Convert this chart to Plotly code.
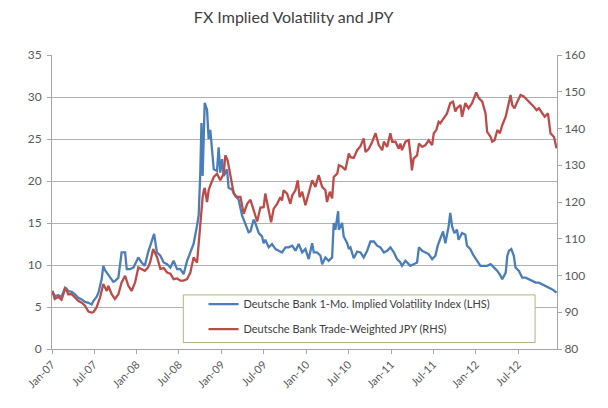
import plotly.graph_objects as go

vol_dates = ["2007-01-02","2007-01-13","2007-01-28","2007-02-11","2007-02-26","2007-03-05","2007-03-12","2007-03-27",
"2007-04-10","2007-04-24","2007-05-09","2007-05-23","2007-06-07","2007-06-21","2007-06-28","2007-07-12","2007-07-20",
"2007-07-27","2007-08-03","2007-08-10","2007-08-17","2007-08-25","2007-09-08","2007-09-22","2007-09-29","2007-10-14",
"2007-10-28","2007-11-12","2007-11-19","2007-12-03","2007-12-18","2008-01-01","2008-01-08","2008-01-22","2008-02-05",
"2008-02-19","2008-03-12","2008-03-16","2008-03-28","2008-04-12","2008-04-26","2008-05-11","2008-05-25","2008-06-08",
"2008-06-23","2008-07-07","2008-07-21","2008-08-05","2008-08-19","2008-09-02","2008-09-17","2008-09-24","2008-10-01",
"2008-10-06","2008-10-11","2008-10-16","2008-10-20","2008-10-30","2008-11-06","2008-11-13","2008-11-21","2008-11-28",
"2008-12-12","2008-12-19","2008-12-26","2009-01-03","2009-01-10","2009-01-24","2009-01-31","2009-02-15","2009-03-01",
"2009-03-15","2009-03-30","2009-04-13","2009-04-27","2009-05-05","2009-05-19","2009-05-26","2009-06-10","2009-06-24",
"2009-07-01","2009-07-08","2009-07-23","2009-08-06","2009-08-21","2009-09-04","2009-09-18","2009-10-03","2009-10-17",
"2009-11-01","2009-11-15","2009-11-29","2009-12-14","2009-12-28","2010-01-11","2010-01-26","2010-02-02","2010-02-16",
"2010-03-03","2010-03-10","2010-03-24","2010-04-07","2010-04-22","2010-04-29","2010-05-06","2010-05-18","2010-05-21",
"2010-06-04","2010-06-11","2010-06-26","2010-07-03","2010-07-10","2010-07-24","2010-08-08","2010-08-22","2010-09-05",
"2010-09-20","2010-10-04","2010-10-19","2010-11-02","2010-11-16","2010-12-01","2010-12-15","2010-12-29","2011-01-13",
"2011-01-27","2011-02-10","2011-02-17","2011-03-04","2011-03-18","2011-03-25","2011-04-08","2011-04-23","2011-05-01",
"2011-05-15","2011-05-29","2011-06-12","2011-06-27","2011-07-11","2011-07-21","2011-08-01","2011-08-13","2011-08-23",
"2011-09-06","2011-09-13","2011-09-21","2011-10-01","2011-10-12","2011-10-19","2011-11-03","2011-11-17","2011-11-24",
"2011-12-08","2011-12-23","2012-01-07","2012-01-21","2012-02-05","2012-02-19","2012-03-05","2012-03-19","2012-04-03",
"2012-04-17","2012-04-24","2012-05-09","2012-05-16","2012-05-23","2012-06-02","2012-06-13","2012-06-20","2012-07-05",
"2012-07-19","2012-08-03","2012-08-17","2012-09-01","2012-09-15","2012-09-29","2012-10-14","2012-10-28","2012-11-11",
"2012-11-26","2012-12-14"]
vol_values = [6.9,6.3,6.4,6.2,7.3,7.2,6.9,6.8,
6.5,6.1,5.9,5.6,5.5,5.3,5.7,6.2,6.7,
7.4,8.3,9.9,9.4,9.1,8.5,8.0,8.1,8.5,
11.5,11.5,9.5,9.5,9.7,10.5,10.9,10.3,9.9,
11.5,13.5,13.7,11.5,11.1,10.3,10.1,9.7,10.5,
9.5,9.5,8.9,10.5,11.5,12.5,14.7,15.9,21.0,
26.9,20.6,28.1,29.3,28.5,25.0,26.1,23.0,21.4,
21.2,24.0,21.0,22.6,20.6,21.4,19.2,19.0,18.2,
17.8,15.9,14.9,13.9,14.0,15.4,15.0,13.8,13.4,
12.6,13.0,12.1,12.5,11.9,11.7,11.5,12.1,12.1,
12.3,11.7,12.5,11.5,11.9,10.7,12.6,11.5,11.5,
11.1,10.1,10.9,10.5,10.9,15.0,14.2,16.4,14.2,
15.0,13.4,12.6,11.9,12.1,10.8,11.6,11.5,10.9,
11.7,12.8,12.8,12.3,12.1,11.5,11.7,12.1,11.5,
10.7,10.3,9.9,10.5,10.1,9.9,10.1,10.3,12.1,
11.7,11.5,11.3,10.7,11.1,12.3,13.2,14.0,12.6,
14.6,16.2,14.6,13.8,14.2,13.0,13.8,13.6,12.3,
11.9,11.1,10.5,9.9,9.9,9.9,10.1,9.7,9.3,
8.7,8.3,9.1,11.1,11.7,11.9,11.1,9.7,9.3,
8.5,8.5,8.3,8.1,7.9,7.9,7.7,7.5,7.3,
7.1,6.7]

jpy_dates = ["2007-01-02","2007-01-13","2007-01-28","2007-02-11","2007-02-26","2007-03-05","2007-03-12","2007-03-27",
"2007-04-10","2007-04-24","2007-05-09","2007-05-23","2007-06-07","2007-06-21","2007-06-28","2007-07-12","2007-07-27",
"2007-08-10","2007-08-25","2007-09-01","2007-09-15","2007-09-29","2007-10-14","2007-10-28","2007-11-12","2007-11-26",
"2007-12-10","2007-12-25","2008-01-08","2008-01-22","2008-02-05","2008-02-19","2008-02-28","2008-03-12","2008-03-29",
"2008-04-12","2008-04-26","2008-05-11","2008-05-25","2008-06-08","2008-06-23","2008-07-07","2008-07-21","2008-08-05",
"2008-08-19","2008-09-02","2008-09-17","2008-09-24","2008-10-01","2008-10-11","2008-10-16","2008-10-20","2008-10-30",
"2008-11-06","2008-11-13","2008-11-28","2008-12-12","2008-12-26","2009-01-10","2009-01-17","2009-01-27","2009-02-08",
"2009-02-22","2009-03-08","2009-03-23","2009-04-06","2009-04-21","2009-05-05","2009-05-19","2009-06-03","2009-06-17",
"2009-07-01","2009-07-08","2009-07-16","2009-07-23","2009-08-02","2009-08-13","2009-08-28","2009-09-11","2009-09-18",
"2009-09-25","2009-10-10","2009-10-24","2009-11-01","2009-11-15","2009-11-25","2009-12-03","2009-12-14","2009-12-28",
"2010-01-11","2010-01-26","2010-02-09","2010-02-23","2010-03-10","2010-03-24","2010-03-31","2010-04-12","2010-04-22",
"2010-04-29","2010-05-14","2010-05-21","2010-06-04","2010-06-18","2010-07-03","2010-07-10","2010-07-24","2010-08-08",
"2010-08-22","2010-09-05","2010-09-13","2010-09-27","2010-10-12","2010-10-26","2010-11-09","2010-11-24","2010-12-01",
"2010-12-15","2010-12-29","2011-01-06","2011-01-20","2011-02-03","2011-02-10","2011-02-17","2011-03-04","2011-03-18",
"2011-03-25","2011-04-01","2011-04-08","2011-04-23","2011-05-01","2011-05-15","2011-05-29","2011-06-12","2011-06-27",
"2011-07-04","2011-07-15","2011-07-25","2011-08-01","2011-08-16","2011-08-30","2011-09-13","2011-09-25","2011-10-05",
"2011-10-12","2011-10-27","2011-11-03","2011-11-17","2011-12-01","2011-12-16","2012-01-03","2012-01-14","2012-01-29",
"2012-02-12","2012-02-19","2012-03-05","2012-03-12","2012-03-22","2012-04-03","2012-04-14","2012-04-24","2012-05-09",
"2012-05-19","2012-05-30","2012-06-06","2012-06-16","2012-06-28","2012-07-12","2012-07-26","2012-08-10","2012-08-24",
"2012-09-07","2012-09-19","2012-09-29","2012-10-14","2012-10-24","2012-11-07","2012-11-18","2012-12-03","2012-12-14"]
jpy_values = [95.8,93.6,94.2,93.4,96.3,96.0,94.9,94.9,
94.0,93.1,92.6,91.8,90.2,89.9,90.0,91.3,94.0,
97.7,95.8,97.2,94.9,93.6,94.9,98.1,99.9,97.2,
95.8,98.1,102.2,101.8,101.3,102.2,103.6,107.2,104.9,
101.8,102.0,100.8,100.5,99.0,99.2,98.6,98.6,99.0,
100.8,104.9,103.5,108.6,115.0,121.3,123.2,123.8,120.0,
123.2,124.5,126.8,127.7,125.9,127.7,132.7,131.3,126.8,
122.3,121.4,121.4,116.8,119.5,120.6,118.0,114.7,118.5,
118.6,122.3,119.5,118.1,114.5,118.1,119.5,121.3,120.4,
123.2,122.3,119.5,121.8,123.2,125.9,121.3,122.8,119.1,
122.3,125.9,124.1,127.3,124.1,123.2,120.0,122.8,121.0,
126.8,127.7,130.0,129.6,128.7,133.2,132.2,132.0,134.1,
135.2,137.3,133.6,134.5,136.4,138.7,135.5,134.1,136.4,
135.0,138.7,136.4,136.4,134.5,135.9,134.1,136.4,136.8,
133.2,128.6,131.8,132.7,135.9,135.0,135.5,136.8,135.5,
138.7,139.6,141.8,141.4,142.8,144.1,146.9,147.3,144.6,
145.5,146.4,143.2,146.9,145.5,146.9,149.8,148.3,147.3,
144.1,139.1,137.7,136.4,136.8,139.6,138.7,140.9,143.2,
145.9,149.1,146.4,145.5,147.3,149.1,148.7,147.8,146.9,
145.9,145.0,145.5,144.1,143.2,144.1,138.7,137.7,134.6]

series_names = ["Deutsche Bank 1-Mo. Implied Volatility Index (LHS)", "Deutsche Bank Trade-Weighted JPY (RHS)"]
series_colors = ["#4a7ebb", "#be4b48"]
left_ticks = [0, 5, 10, 15, 20, 25, 30, 35]
right_ticks = [80, 90, 100, 110, 120, 130, 140, 150, 160]

FONT = "Lato, Open Sans, sans-serif"
GRID = "#b2b2b2"
AXIS = "#a6a6a6"
TXT = "#595959"

fig = go.Figure()
fig.add_trace(go.Scatter(x=vol_dates, y=vol_values, name=series_names[0], mode="lines",
                         line=dict(color=series_colors[0], width=2.3), legendgroup="a"))
fig.add_trace(go.Scatter(x=jpy_dates, y=jpy_values, name=series_names[1], mode="lines", yaxis="y2",
                         line=dict(color=series_colors[1], width=2.3), legendgroup="b"))

fig.update_layout(
    width=608, height=408,
    margin=dict(l=52, r=51, t=55, b=59),
    paper_bgcolor="white", plot_bgcolor="white",
    font=dict(family=FONT, size=11, color=TXT),
    title=dict(text="FX Implied Volatility and JPY", x=0.483, xanchor="center", y=0.957, yanchor="middle",
               font=dict(family=FONT, size=16, color="#404040")),
    xaxis=dict(type="date", range=["2007-01-01", "2012-12-16"], tick0="2007-01-01", dtick="M6",
               tickformat="%b-%y", tickangle=-45, ticks="outside", ticklen=4, tickcolor=AXIS,
               showline=True, linecolor=AXIS, linewidth=1, showgrid=False, zeroline=False,
               tickfont=dict(size=11, color=TXT)),
    yaxis=dict(range=[0, 35], tickvals=left_ticks, ticks="outside", ticklen=4, tickcolor=AXIS,
               ticklabelstandoff=3,
               showline=True, linecolor=AXIS, linewidth=1, showgrid=True, gridcolor=GRID, gridwidth=1,
               zeroline=False, tickfont=dict(size=12, color=TXT)),
    yaxis2=dict(range=[80, 160], tickvals=right_ticks, overlaying="y", side="right", ticks="outside",
                ticklen=4, tickcolor=AXIS, showline=True, linecolor=AXIS, linewidth=1, showgrid=False,
                zeroline=False, tickfont=dict(size=12, color=TXT)),
    showlegend=True,
    legend=dict(x=0.30, y=0.202, xanchor="left", yanchor="top", bgcolor="rgba(0,0,0,0)", borderwidth=0,
                traceorder="grouped", tracegroupgap=6, font=dict(family=FONT, size=11, color="#404040")),
    shapes=[dict(type="rect", xref="paper", yref="paper", x0=0.26, x1=0.9566, y0=0.022, y1=0.184,
                 fillcolor="white", line=dict(color="#a9b97a", width=1), layer="above")],
)

fig.write_html("out.html", config={"displayModeBar": False},
               post_script="document.body.style.margin='0';")
